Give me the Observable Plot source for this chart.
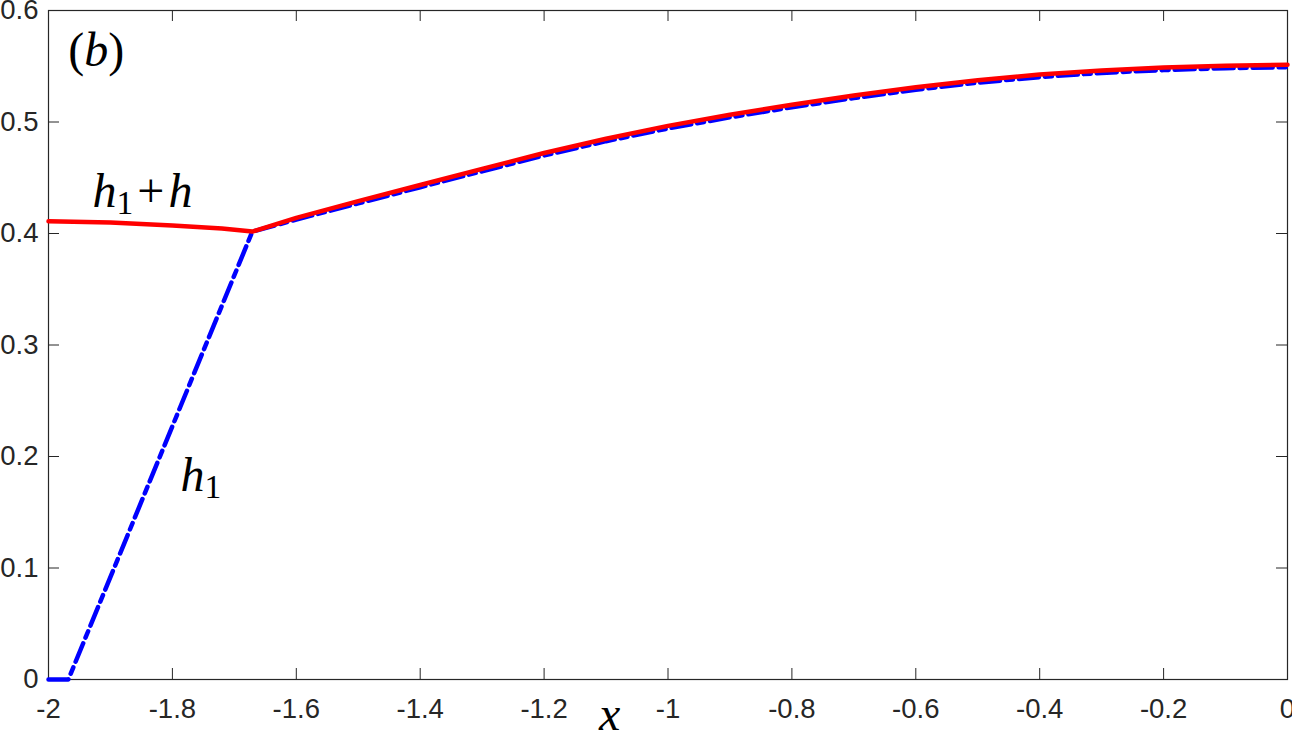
<!DOCTYPE html>
<html>
<head>
<meta charset="utf-8">
<script src="https://cdn.jsdelivr.net/npm/d3@7"></script>
<script src="https://cdn.jsdelivr.net/npm/@observablehq/plot@0.6"></script>
<style>
  html, body { margin: 0; padding: 0; background: #fff; }
  #chart svg { display: block; }
  #chart svg g[aria-label="x-axis tick label"] text,
  #chart svg g[aria-label="y-axis tick label"] text { font-size: 27.5px; fill: #262626; }
</style>
</head>
<body>
<div id="chart"></div>
<script>
// h1 + h (red solid curve)
const redX = [-2, -1.9, -1.8, -1.72, -1.671, -1.6, -1.5, -1.4, -1.3, -1.2, -1.1, -1.0, -0.9, -0.8, -0.7, -0.6, -0.5, -0.4, -0.3, -0.2, -0.1, 0];
const redY = [0.411, 0.4098, 0.4072, 0.4045, 0.4017, 0.414, 0.429, 0.4435, 0.458, 0.4722, 0.485, 0.4965, 0.5065, 0.5155, 0.5238, 0.5312, 0.5375, 0.5425, 0.5462, 0.5488, 0.5505, 0.5514];
// h1 (blue dash-dot curve)
const blueX = [-2, -1.968, -1.671, -1.6, -1.5, -1.4, -1.3, -1.2, -1.1, -1.0, -0.9, -0.8, -0.7, -0.6, -0.5, -0.4, -0.3, -0.2, -0.1, 0];
const blueY = [0, 0, 0.4017, 0.4125, 0.427, 0.4415, 0.4558, 0.47, 0.4828, 0.4942, 0.5042, 0.5132, 0.5215, 0.529, 0.5353, 0.5403, 0.544, 0.5466, 0.5483, 0.5492];
// tick values
const xTicks = [-2, -1.8, -1.6, -1.4, -1.2, -1, -0.8, -0.6, -0.4, -0.2, 0];
const yTicks = [0, 0.1, 0.2, 0.3, 0.4, 0.5, 0.6];
// annotations
const labelTexts = ["(b)", "h_1+h", "h_1"];
const labelX = [-1.968, -1.929, -1.787];
const labelY = [0.5498, 0.4242, 0.1695];
const xLabel = "x";

const red = redX.map((x, i) => ({x, y: redY[i]}));
const blue = blueX.map((x, i) => ({x, y: blueY[i]}));
const labels = labelTexts.map((t, i) => ({t, x: labelX[i], y: labelY[i]}));

const W = 1292, H = 738;
const mL = 48, mR = 5, mT = 10, mB = 59;
const fw = W - mL - mR, fh = H - mT - mB;
const tickLen = 11;
const ink = "#262626";
const serif = "'Liberation Serif', 'DejaVu Serif', serif";

const plot = Plot.plot({
  width: W, height: H,
  marginLeft: mL, marginRight: mR, marginTop: mT, marginBottom: mB,
  style: {fontFamily: "'Liberation Sans', Arial, sans-serif", fontSize: "27.5px", color: ink, background: "#fff"},
  x: {domain: [-2, 0]},
  y: {domain: [0, 0.6]},
  marks: [
    Plot.axisX({ticks: xTicks, tickSize: 0, tickPadding: 19, tickFormat: d => String(d), label: null}),
    Plot.axisY({ticks: yTicks, tickSize: 0, tickPadding: 10, tickFormat: d => String(d), label: null}),
    // inward ticks on all four sides
    Plot.tickX(xTicks, {x: d => d, insetTop: fh - tickLen, stroke: ink, strokeWidth: 1}),
    Plot.tickX(xTicks, {x: d => d, insetBottom: fh - tickLen, stroke: ink, strokeWidth: 1}),
    Plot.tickY(yTicks, {y: d => d, insetRight: fw - tickLen, stroke: ink, strokeWidth: 1}),
    Plot.tickY(yTicks, {y: d => d, insetLeft: fw - tickLen, stroke: ink, strokeWidth: 1}),
    Plot.frame({stroke: ink, strokeWidth: 1.2}),
    Plot.line(blue, {x: "x", y: "y", stroke: "#0000ff", strokeWidth: 4.5, strokeDasharray: "20,6,7,6"}),
    Plot.line(red, {x: "x", y: "y", stroke: "#ff0000", strokeWidth: 4.5}),
    Plot.text(labels, {x: "x", y: "y", text: "t", textAnchor: "start", lineAnchor: "bottom", fontSize: 48,
      fontFamily: serif, fill: "#000", className: "mathlbl"}),
    Plot.text([xLabel], {x: [-1.094], y: [0], text: d => d, textAnchor: "middle", lineAnchor: "bottom", dy: 50,
      fontSize: 48, fontStyle: "italic", fontFamily: serif, fill: "#000"})
  ]
});

// render math-like labels with italic variables and upright subscripts
d3.select(plot).selectAll(".mathlbl text").each(function() {
  const el = d3.select(this);
  const s = el.text();
  el.text(null);
  const parts = s.match(/_\d|[a-z]|[^a-z_]+/g) || [];
  let shifted = false;
  for (const p of parts) {
    let ts;
    if (p.startsWith("_")) {
      ts = el.append("tspan").attr("font-style", "normal").attr("font-size", "70%").attr("dy", "0.22em").text(p.slice(1));
      shifted = true;
      continue;
    } else if (/^[a-z]$/.test(p)) {
      ts = el.append("tspan").attr("font-style", "italic").text(p);
    } else {
      ts = el.append("tspan").attr("font-style", "normal").text(p.replace("+", "\u200a+\u200a"));
    }
    if (shifted) { ts.attr("dy", "-0.154em"); shifted = false; }
  }
});

document.getElementById("chart").appendChild(plot);
</script>
</body>
</html>
